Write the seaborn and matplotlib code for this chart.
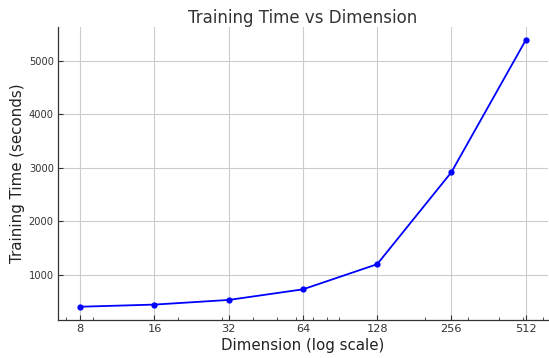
import matplotlib
matplotlib.use("Agg")
import matplotlib.pyplot as plt
import seaborn as sns
import pandas as pd

# data
dimensions = [8, 16, 32, 64, 128, 256, 512]
training_time = [400, 440, 527, 725, 1195, 2915, 5380]

df = pd.DataFrame({"dimension": dimensions, "time": training_time})

sns.set_style("whitegrid")
plt.rcParams["font.family"] = ["DejaVu Sans"]

text_color = "#333333"

fig = plt.figure(figsize=(5.49, 3.58), dpi=100)
ax = fig.add_axes([0.1056, 0.106, 0.8924, 0.8186])

sns.lineplot(data=df, x="dimension", y="time", ax=ax, color="blue",
             marker="o", markersize=4.5, markeredgewidth=0, linewidth=1.3)

ax.set_xscale("log")
ax.set_xticks(dimensions)
ax.set_xticklabels([str(d) for d in dimensions])

ax.set_title("Training Time vs Dimension", fontsize=12, color=text_color, pad=3)
ax.set_xlabel("Dimension (log scale)", fontsize=10.8, color="#222222", labelpad=2.5)
ax.set_ylabel("Training Time (seconds)", fontsize=10.8, color="#222222", labelpad=3)

ax.grid(True, which="major", color="#cccccc", linewidth=0.8)
ax.grid(False, which="minor")
ax.tick_params(axis="both", which="both", direction="in",
               labelcolor=text_color, color="#333333")
ax.tick_params(axis="y", labelsize=7.1)
ax.tick_params(axis="x", labelsize=8.2)
ax.tick_params(axis="both", which="major", length=3.5, width=0.8, pad=3)
ax.tick_params(axis="x", which="minor", length=2, width=0.6, bottom=True)
ax.tick_params(axis="y", which="major", left=True)
ax.tick_params(axis="x", which="major", bottom=True)

for side in ["top", "right"]:
    ax.spines[side].set_visible(False)
for side in ["left", "bottom"]:
    ax.spines[side].set_color("#333333")
    ax.spines[side].set_linewidth(0.9)

fig.savefig("out.png", dpi=100)
